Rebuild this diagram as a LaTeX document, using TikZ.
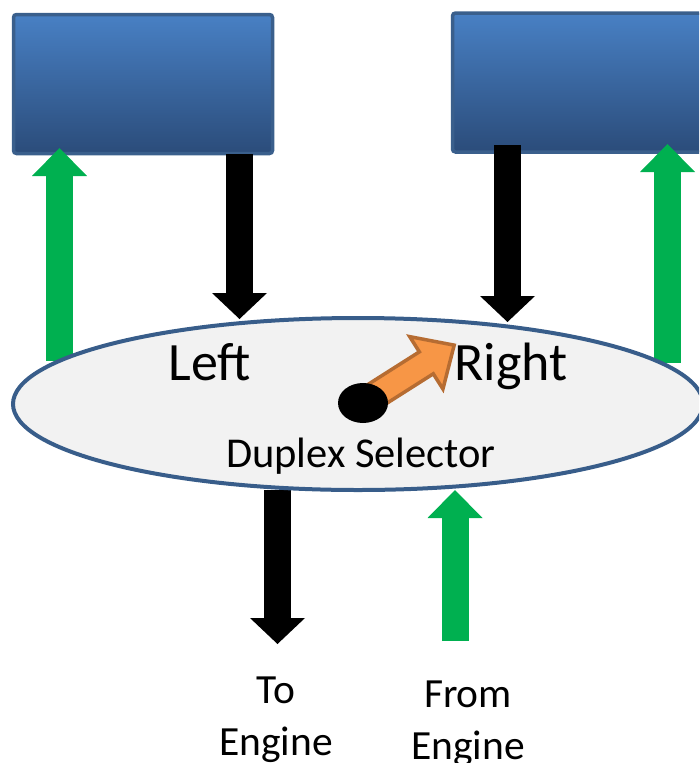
\documentclass[tikz,border=0pt]{standalone}
\usepackage{fontspec}
\setmainfont{Carlito}
\usetikzlibrary{arrows.meta,shapes.geometric}
\definecolor{boxtop}{RGB}{72,128,196}
\definecolor{boxbot}{RGB}{43,76,122}
\definecolor{boxline}{RGB}{58,95,140}
\definecolor{selfill}{RGB}{242,242,242}
\definecolor{selline}{RGB}{56,93,138}
\definecolor{flowgreen}{RGB}{0,176,80}
\definecolor{knoborange}{RGB}{247,150,70}
\definecolor{knobline}{RGB}{182,108,50}
\begin{document}
\begin{tikzpicture}[x=1pt,y=-1pt,
  tank/.style={draw=boxline, line width=3.5pt, rounded corners=3pt,
    top color=boxtop, bottom color=boxbot, inner sep=0pt,
    minimum width=259pt, minimum height=139pt},
  greenflow/.style={draw=flowgreen, line width=27pt,
    -{Triangle[width=55pt,length=28pt,line width=0pt]}},
  blackflow/.style={draw=black, line width=27pt,
    -{Triangle[width=55pt,length=26pt,line width=0pt]}},
  selector/.style={ellipse, draw=selline, line width=4pt, fill=selfill,
    minimum width=690pt, minimum height=172pt, inner sep=0pt},
  biglbl/.style={inner sep=0pt, anchor=base, font=\fontsize{54}{64}\selectfont},
  midlbl/.style={inner sep=0pt, anchor=base, font=\fontsize{42.5}{50}\selectfont},
  enginelbl/.style={inner sep=0pt, anchor=base, align=center,
    font=\fontsize{41.5}{52}\selectfont},
  knob/.style={draw=knobline, line width=3.5pt, fill=knoborange, line join=miter}
]
\useasboundingbox (0,0) rectangle (699,763);
\clip (0,0) rectangle (699,763);

% tanks
\node[tank] (lbox) at (143,84) {};
\node[tank] (rbox) at (582,82.5) {};

% connector end points
\coordinate (gl1) at (59.5,361);
\coordinate (gl2) at (59.5,148);
\coordinate (bl1) at (239.5,154);
\coordinate (bl2) at (239.5,319);
\coordinate (br1) at (507.5,145);
\coordinate (br2) at (507.5,322);
\coordinate (gr1) at (667.5,363);
\coordinate (gr2) at (667.5,144);
\coordinate (bb1) at (277.5,490);
\coordinate (bb2) at (277.5,644);
\coordinate (gb1) at (455,641);
\coordinate (gb2) at (455,490);

\draw[greenflow] (gl1) -- (gl2);
\draw[blackflow] (bl1) -- (bl2);
\draw[blackflow] (br1) -- (br2);
\draw[greenflow] (gr1) -- (gr2);
\draw[blackflow] (bb1) -- (bb2);
\draw[greenflow] (gb1) -- (gb2);

% selector
\node[selector] (sel) at (358,404) {};

% knob pointer
\begin{scope}[shift={(363,403)}, rotate=32.4]
  \draw[knob] (0,-13) -- (75,-13) -- (75,-31) -- (108,0) -- (75,31) -- (75,13) -- (0,13) -- cycle;
\end{scope}
\node[ellipse, fill=black, minimum width=50pt, minimum height=40pt, inner sep=0pt] (dot) at (363,403) {};

% labels
\node[biglbl] (lefttxt) at (210,380) {Left};
\node[biglbl] (righttxt) at (511,380) {Right};
\node[midlbl] (seltxt) at (361,467) {Duplex Selector};
\node[enginelbl] (totxt) at (276,755) {To\\Engine};
\node[enginelbl] (fromtxt) at (468,759) {From\\Engine};
\end{tikzpicture}
\end{document}
